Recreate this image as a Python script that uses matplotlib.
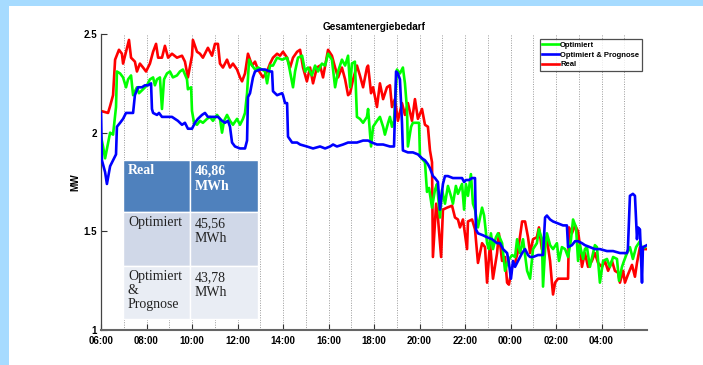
import matplotlib
matplotlib.use("Agg")
import matplotlib.pyplot as plt
from matplotlib.patches import Rectangle

# Time axis: hours after 06:00
tick_hours = [0, 2, 4, 6, 8, 10, 12, 14, 16, 18, 20, 22]
tick_labels = ["06:00", "08:00", "10:00", "12:00", "14:00", "16:00",
               "18:00", "20:00", "22:00", "00:00", "02:00", "04:00"]
grid_hours = list(range(1, 24))

real_t = [0.00, 0.31, 0.40, 0.53, 0.62, 0.79, 0.92, 0.97, 1.14, 1.23, 1.32, 1.49, 1.58, 1.71, 1.85,
          1.98, 2.15, 2.29, 2.42, 2.51, 2.68, 2.81, 2.95, 3.12, 3.34, 3.56, 3.69, 3.82, 4.00, 4.04,
          4.22, 4.35, 4.48, 4.70, 4.88, 5.01, 5.14, 5.23, 5.36, 5.54, 5.67, 5.80, 5.98, 6.11, 6.20,
          6.33, 6.46, 6.64, 6.77, 6.90, 7.12, 7.30, 7.43, 7.56, 7.74, 7.87, 8.00, 8.18, 8.31, 8.44,
          8.62, 8.75, 8.88, 9.05, 9.19, 9.32, 9.49, 9.63, 9.76, 9.98, 10.15, 10.29, 10.42, 10.59,
          10.73, 10.86, 10.95, 11.08, 11.25, 11.38, 11.52, 11.69, 11.74, 11.87, 11.96, 12.13, 12.26,
          12.40, 12.57, 12.70, 12.79, 12.92, 13.05, 13.23, 13.36, 13.49, 13.67, 13.80, 13.93, 14.11,
          14.24, 14.37, 14.46, 14.55, 14.59, 14.73, 14.81, 14.95, 15.03, 15.21, 15.43, 15.56, 15.69,
          15.78, 15.91, 16.09, 16.13, 16.31, 16.44, 16.57, 16.75, 16.88, 16.97, 17.10, 17.23, 17.41,
          17.49, 17.63, 17.76, 17.85, 17.93, 18.07, 18.20, 18.33, 18.51, 18.64, 18.77, 18.86, 18.99,
          19.16, 19.25, 19.38, 19.47, 19.60, 19.74, 19.82, 19.87, 19.96, 20.09, 20.53, 20.57, 20.70,
          20.84, 20.97, 21.05, 21.14, 21.27, 21.41, 21.58, 21.71, 21.85, 22.02, 22.15, 22.29, 22.46,
          22.59, 22.73, 22.81, 22.95, 23.03, 23.16, 23.34, 23.47, 23.56, 23.69, 23.82, 24.00]
real_mw = [2.11, 2.10, 2.135, 2.19, 2.37, 2.42, 2.40, 2.35, 2.43, 2.47, 2.38, 2.36, 2.31, 2.35, 2.33,
           2.31, 2.35, 2.41, 2.45, 2.38, 2.38, 2.44, 2.38, 2.40, 2.38, 2.39, 2.36, 2.28, 2.39, 2.47,
           2.41, 2.40, 2.38, 2.43, 2.39, 2.45, 2.45, 2.35, 2.33, 2.37, 2.33, 2.35, 2.32, 2.28, 2.26,
           2.30, 2.40, 2.34, 2.36, 2.32, 2.28, 2.31, 2.35, 2.38, 2.40, 2.39, 2.41, 2.38, 2.33, 2.38,
           2.41, 2.42, 2.33, 2.26, 2.33, 2.25, 2.33, 2.34, 2.28, 2.42, 2.39, 2.33, 2.28, 2.33,
           2.27, 2.19, 2.20, 2.27, 2.34, 2.29, 2.23, 2.33, 2.34, 2.20, 2.23, 2.13, 2.25,
           2.17, 2.23, 2.24, 2.13, 2.17, 2.06, 2.15, 2.09, 2.15, 2.06, 2.17, 2.07, 2.12,
           2.04, 2.03, 1.91, 1.85, 1.37, 1.64, 1.57, 1.37, 1.61, 1.62, 1.63, 1.57, 1.56,
           1.52, 1.56, 1.41, 1.55, 1.56, 1.51, 1.34, 1.44, 1.42, 1.24, 1.44, 1.26, 1.39,
           1.49, 1.35, 1.37, 1.24, 1.23, 1.32, 1.34, 1.40, 1.55, 1.55, 1.47, 1.39, 1.46,
           1.47, 1.52, 1.41, 1.47, 1.46, 1.35, 1.24, 1.18, 1.24, 1.26, 1.26, 1.52, 1.49,
           1.53, 1.50, 1.43, 1.32, 1.39, 1.32, 1.35, 1.39, 1.34, 1.32, 1.35, 1.30, 1.35,
           1.30, 1.29, 1.24, 1.30, 1.24, 1.28, 1.33, 1.27, 1.34, 1.42, 1.41, 1.41]

opt_t = [0.00, 0.09, 0.18, 0.40, 0.53, 0.66, 0.70, 0.84, 0.97, 1.10, 1.19, 1.32, 1.41, 1.58, 1.67,
         1.85, 2.02, 2.15, 2.29, 2.37, 2.46, 2.59, 2.68, 2.77, 2.90, 3.03, 3.16, 3.34, 3.47, 3.60,
         3.78, 3.82, 3.96, 4.00, 4.09, 4.22, 4.35, 4.48, 4.66, 4.79, 4.92, 5.10, 5.23, 5.32, 5.41,
         5.54, 5.67, 5.80, 5.98, 6.11, 6.24, 6.33, 6.42, 6.51, 6.64, 6.77, 6.90, 7.08, 7.21, 7.30,
         7.43, 7.56, 7.74, 7.96, 8.18, 8.26, 8.44, 8.53, 8.66, 8.84, 8.97, 9.10, 9.27, 9.41, 9.54,
         9.71, 9.85, 9.98, 10.15, 10.29, 10.42, 10.59, 10.73, 10.86, 10.95, 11.03, 11.16, 11.25,
         11.38, 11.52, 11.69, 11.74, 11.87, 11.96, 12.13, 12.26, 12.40, 12.48, 12.62, 12.70, 12.79,
         12.88, 13.01, 13.14, 13.27, 13.36, 13.45, 13.49, 13.63, 13.71, 13.98, 14.02, 14.24, 14.33,
         14.42, 14.55, 14.68, 14.77, 14.90, 14.99, 15.12, 15.25, 15.38, 15.47, 15.60, 15.69, 15.87,
         15.96, 16.04, 16.13, 16.26, 16.35, 16.44, 16.57, 16.75, 16.84, 16.97, 17.05, 17.14, 17.23,
         17.36, 17.45, 17.63, 17.76, 17.89, 18.07, 18.20, 18.29, 18.42, 18.55, 18.73, 18.86, 18.99,
         19.16, 19.25, 19.38, 19.43, 19.52, 19.60, 19.74, 19.87, 20.04, 20.13, 20.26, 20.40, 20.53,
         20.66, 20.75, 20.88, 20.97, 21.05, 21.19, 21.27, 21.36, 21.49, 21.63, 21.71, 21.80, 21.93,
         22.07, 22.24, 22.37, 22.51, 22.68, 22.77, 22.90, 22.99, 23.12, 23.25, 23.38, 23.52, 23.69,
         23.78, 23.91]
opt_mw = [1.98, 1.93, 1.87, 2.00, 1.99, 2.13, 2.31, 2.30, 2.28, 2.23, 2.27, 2.29, 2.19, 2.23, 2.20,
          2.22, 2.24, 2.27, 2.28, 2.24, 2.27, 2.28, 2.12, 2.27, 2.30, 2.31, 2.28, 2.29, 2.31, 2.32,
          2.27, 2.22, 2.23, 2.11, 2.05, 2.04, 2.06, 2.05, 2.07, 2.08, 2.06, 2.09, 2.07, 2.00, 2.06,
          2.09, 2.06, 2.04, 2.07, 2.04, 2.07, 2.10, 2.20, 2.37, 2.34, 2.32, 2.33, 2.32, 2.31, 2.25,
          2.34, 2.34, 2.38, 2.37, 2.38, 2.34, 2.23, 2.31, 2.38, 2.39, 2.31, 2.33, 2.29, 2.34, 2.31,
          2.35, 2.34, 2.40, 2.37, 2.23, 2.31, 2.37, 2.34, 2.39, 2.23, 2.35, 2.36, 2.08,
          2.07, 2.05, 2.08, 2.12, 1.93, 2.03, 2.06, 2.08, 2.03, 1.99, 2.05, 2.08, 2.03,
          2.06, 2.32, 2.30, 2.33, 2.25, 2.12, 1.93, 2.03, 2.05, 2.05, 1.88, 1.85, 1.70,
          1.72, 1.62, 1.71, 1.74, 1.57, 1.71, 1.64, 1.73, 1.68, 1.64, 1.73, 1.69, 1.74,
          1.61, 1.74, 1.68, 1.79, 1.64, 1.61, 1.52, 1.62, 1.58, 1.44, 1.41, 1.49, 1.41,
          1.47, 1.49, 1.44, 1.30, 1.35, 1.38, 1.37, 1.46, 1.39, 1.46, 1.30, 1.26, 1.41,
          1.44, 1.51, 1.46, 1.22, 1.41, 1.49, 1.43, 1.41, 1.44, 1.35, 1.42, 1.41, 1.37,
          1.46, 1.56, 1.52, 1.35, 1.43, 1.36, 1.41, 1.42, 1.32, 1.39, 1.43, 1.42, 1.24,
          1.35, 1.36, 1.32, 1.37, 1.36, 1.25, 1.32, 1.35, 1.39, 1.42, 1.36, 1.42, 1.45,
          1.41, 1.42]

prog_t = [0.00, 0.04, 0.18, 0.26, 0.40, 0.53, 0.66, 0.70, 0.84, 0.97, 1.10, 1.41, 1.49, 1.63, 1.80,
          1.93, 2.07, 2.20, 2.24, 2.29, 2.46, 2.55, 2.68, 3.12, 3.25, 3.38, 3.56, 3.69, 3.82, 4.00,
          4.13, 4.26, 4.44, 4.57, 4.70, 4.92, 5.14, 5.32, 5.45, 5.58, 5.67, 5.76, 5.89, 6.11, 6.33,
          6.42, 6.46, 6.55, 6.68, 6.77, 6.99, 7.21, 7.43, 7.52, 7.56, 7.74, 7.96, 8.00, 8.09, 8.18,
          8.22, 8.40, 8.62, 8.75, 9.05, 9.32, 9.63, 9.85, 10.07, 10.20, 10.37, 10.64, 10.86, 11.25,
          11.52, 11.74, 11.91, 12.13, 12.40, 12.70, 12.88, 12.97, 13.05, 13.14, 13.23, 13.27, 13.49,
          13.71, 13.93, 14.11, 14.24, 14.37, 14.46, 14.59, 14.68, 14.81, 14.90, 15.03, 15.12, 15.25,
          15.47, 15.69, 15.87, 15.96, 16.04, 16.18, 16.31, 16.44, 16.48, 16.57, 16.79, 16.97, 17.19,
          17.41, 17.54, 17.67, 17.85, 17.93, 18.02, 18.11, 18.20, 18.33, 18.51, 18.64, 18.77, 18.86,
          18.99, 19.21, 19.30, 19.43, 19.52, 19.60, 19.74, 19.87, 20.09, 20.31, 20.48, 20.53, 20.70,
          20.84, 20.97, 21.14, 21.27, 21.49, 21.71, 21.93, 22.24, 22.51, 22.81, 23.12, 23.16, 23.25,
          23.38, 23.47, 23.56, 23.60, 23.69, 23.78, 23.82, 24.00]
prog_mw = [2.10, 1.86, 1.80, 1.74, 1.83, 1.86, 1.89, 2.03, 2.05, 2.07, 2.10, 2.10, 2.19, 2.23, 2.23,
           2.24, 2.24, 2.25, 2.12, 2.10, 2.09, 2.10, 2.08, 2.08, 2.07, 2.06, 2.04, 2.05, 2.02, 2.02,
           2.05, 2.07, 2.09, 2.10, 2.08, 2.08, 2.08, 2.06, 2.05, 2.06, 2.03, 1.95, 1.93, 1.92, 1.92,
           1.96, 2.18, 2.20, 2.28, 2.31, 2.32, 2.32, 2.31, 2.31, 2.21, 2.19, 2.20, 2.19, 2.15, 2.15,
           1.98, 1.95, 1.95, 1.94, 1.93, 1.92, 1.93, 1.92, 1.93, 1.94, 1.93, 1.94, 1.95, 1.95,
           1.96, 1.96, 1.95, 1.94, 1.94, 1.93, 1.93, 2.31, 2.30, 2.27, 2.05, 1.91, 1.90,
           1.90, 1.89, 1.87, 1.86, 1.84, 1.82, 1.78, 1.77, 1.75, 1.61, 1.74, 1.78, 1.78,
           1.77, 1.77, 1.77, 1.75, 1.76, 1.76, 1.77, 1.77, 1.51, 1.49, 1.48, 1.47, 1.46,
           1.44, 1.44, 1.41, 1.39, 1.34, 1.26, 1.35, 1.32, 1.35, 1.39, 1.41, 1.38, 1.37,
           1.37, 1.38, 1.38, 1.38, 1.57, 1.58, 1.56, 1.55, 1.54, 1.53, 1.53, 1.42, 1.43,
           1.45, 1.45, 1.44, 1.43, 1.42, 1.41, 1.41, 1.40, 1.40, 1.39, 1.39, 1.41, 1.68,
           1.69, 1.68, 1.46, 1.52, 1.51, 1.24, 1.42, 1.43]

table_names = ["Real", "Optimiert", "Optimiert\n&\nPrognose"]
table_totals = ["46,86\nMWh", "45,56\nMWh", "43,78\nMWh"]

plt.rcParams["font.family"] = ["Liberation Sans", "DejaVu Sans"]

W, H = 703, 365
fig = plt.figure(figsize=(W / 100, H / 100), dpi=100)
fig.patch.set_facecolor("white")

# light blue frame strips along the top and left edge
band = "#a6dbff"
fig.patches.append(Rectangle((0, 1 - 6 / H), 1, 6 / H, transform=fig.transFigure,
                             facecolor=band, edgecolor="none", zorder=0))
fig.patches.append(Rectangle((0, 0), 9 / W, 1, transform=fig.transFigure,
                             facecolor=band, edgecolor="none", zorder=0))

ax = fig.add_axes([101 / W, 1 - 330 / H, 546 / W, 296 / H])
ax.set_facecolor("none")

for h in grid_hours:
    ax.axvline(h, color="#9a9a9a", lw=0.7, ls=(0, (1, 1.5)), zorder=1)

lw = 1.9
ax.plot(opt_t, opt_mw, color="#00ff00", lw=lw, label="Optimiert", zorder=3)
ax.plot(prog_t, prog_mw, color="#0000ff", lw=lw, label="Optimiert & Prognose", zorder=4)
ax.plot(real_t, real_mw, color="#ff0000", lw=lw, label="Real", zorder=2)

ax.set_xlim(0, 24)
ax.set_ylim(1, 2.5)
ax.set_xticks(tick_hours)
ax.set_xticklabels(tick_labels)
ax.set_yticks([1, 1.5, 2, 2.5])
ax.set_yticklabels(["1", "1.5", "2", "2.5"])
for lab in ax.get_xticklabels() + ax.get_yticklabels():
    lab.set_fontweight("bold")
    lab.set_fontsize(7)
ax.tick_params(axis="both", direction="in", length=4, width=0.8, color="#333333")
ax.tick_params(axis="x", pad=4)
ax.tick_params(axis="y", pad=3)

ax.spines["top"].set_visible(False)
ax.spines["right"].set_visible(False)
ax.spines["left"].set_color("#444444")
ax.spines["bottom"].set_color("#666666")
ax.spines["left"].set_linewidth(0.9)
ax.spines["bottom"].set_linewidth(1.5)

ax.set_title("Gesamtenergiebedarf", fontsize=7.2, fontweight="bold", pad=3)
ax.set_ylabel("MW", fontsize=7.2, fontweight="bold", labelpad=2)

leg = ax.legend(loc="upper right", fontsize=5.5, frameon=True, fancybox=False,
                borderpad=0.35, labelspacing=0.3, handlelength=2.2, handletextpad=0.15,
                borderaxespad=0)
leg.set_bbox_to_anchor((1 - 5 / 546, 1 - 5 / 296), transform=ax.transAxes)
leg.get_frame().set_edgecolor("#222222")
leg.get_frame().set_linewidth(0.9)
for t in leg.get_texts():
    t.set_fontweight("bold")

# summary table overlaid on the chart (pixel coordinates)
ov = fig.add_axes([0, 0, 1, 1])
ov.set_xlim(0, W)
ov.set_ylim(H, 0)
ov.axis("off")
ov.set_zorder(5)
ov.patch.set_visible(False)

col_x = [123, 190, 258]
row_y = [160, 212, 266, 319]
row_colors = ["#4f81bd", "#d0d8e8", "#e9edf4"]
serif = ["Liberation Serif", "DejaVu Serif"]
for i in range(3):
    for j in range(2):
        ov.add_patch(Rectangle((col_x[j], row_y[i]), col_x[j + 1] - col_x[j],
                               row_y[i + 1] - row_y[i], facecolor=row_colors[i],
                               edgecolor="white", lw=1.0))
    header = i == 0
    color = "white" if header else "#222222"
    weight = "bold" if header else "normal"
    ov.text(col_x[0] + 5, row_y[i] + 4, table_names[i], ha="left", va="top",
            fontsize=10, family=serif, color=color, fontweight=weight, linespacing=1.1)
    ov.text(col_x[1] + 5, row_y[i] + 5, table_totals[i], ha="left", va="top",
            fontsize=10, family=serif, color=color, fontweight=weight, linespacing=1.15)

fig.savefig("out.png", dpi=100)
